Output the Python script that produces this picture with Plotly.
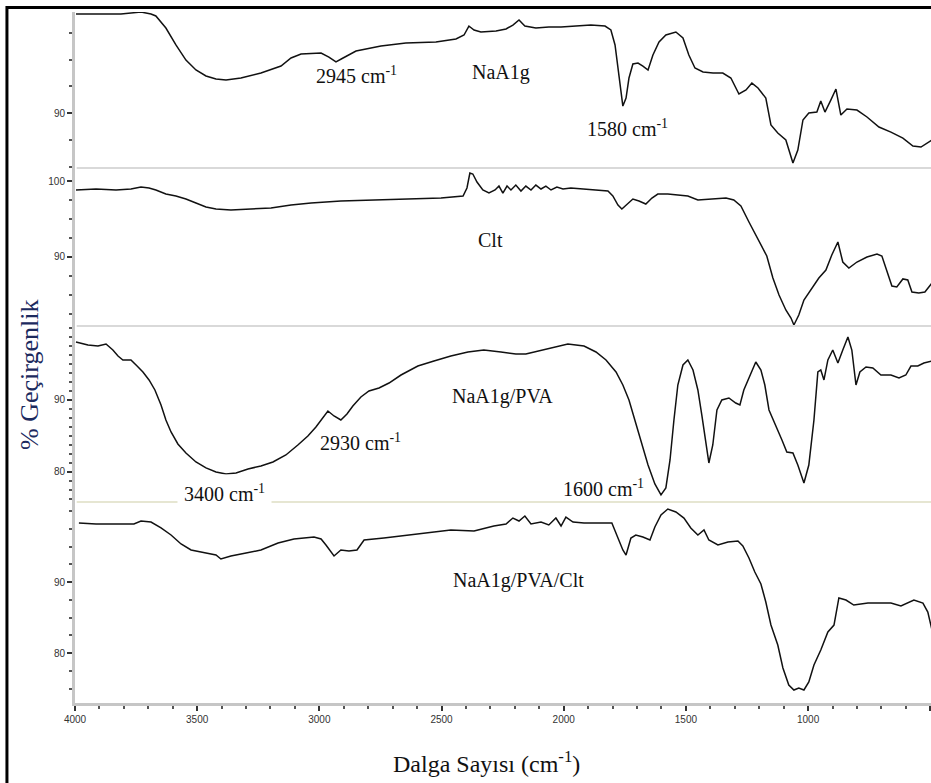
import plotly.graph_objects as go

# FTIR spectra, wavenumber (cm-1) and % transmittance, one pair of lists per sample
naalg_wn = [3996, 3894, 3812, 3730, 3689, 3669, 3628, 3587, 3546, 3505, 3464, 3423, 3382, 3321,
            3239, 3157, 3116, 3075, 2993, 2961, 2932, 2903, 2850, 2748, 2646, 2523, 2441, 2408,
            2388, 2367, 2339, 2277, 2236, 2208, 2183, 2159, 2114, 2061, 2011, 1950, 1889, 1831,
            1807, 1790, 1778, 1766, 1758, 1745, 1733, 1717, 1696, 1676, 1655, 1635, 1610, 1582,
            1541, 1512, 1488, 1463, 1430, 1389, 1349, 1316, 1283, 1254, 1230, 1205, 1173, 1152,
            1124, 1091, 1070, 1062, 1042, 1021, 997, 964, 948, 931, 907, 886, 866, 841, 800, 759,
            710, 661, 612, 571, 538, 514, 493]
naalg_t = [99.25, 99.25, 99.25, 99.44, 99.25, 99.07, 97.94, 96.36, 94.95, 94.02, 93.46, 93.18,
           93.08, 93.27, 93.74, 94.39, 95.14, 95.51, 95.61, 95.23, 94.77, 95.14, 95.79, 96.26,
           96.54, 96.64, 96.92, 97.29, 98.13, 97.76, 97.57, 97.66, 97.85, 98.22, 98.69, 98.13,
           97.94, 98.04, 98.04, 98.13, 98.22, 98.13, 97.76, 96.36, 94.02, 91.68, 90.65, 91.40,
           93.27, 94.58, 94.67, 94.39, 94.02, 95.42, 96.64, 97.29, 97.57, 97.01, 95.42, 94.21,
           93.83, 93.74, 93.74, 93.27, 91.78, 92.15, 92.80, 92.34, 91.40, 88.88, 88.13, 87.48,
           86.07, 85.33, 86.54, 89.35, 90.00, 90.09, 91.12, 90.09, 91.21, 92.24, 89.81, 90.37,
           90.28, 89.63, 88.69, 88.22, 87.66, 86.92, 86.82, 87.20, 87.48]

clt_wn = [3996, 3914, 3832, 3771, 3730, 3697, 3669, 3628, 3587, 3546, 3505, 3464, 3423, 3362,
          3280, 3198, 3116, 3034, 2912, 2789, 2666, 2502, 2412, 2396, 2384, 2372, 2355, 2331,
          2306, 2281, 2265, 2249, 2232, 2216, 2196, 2175, 2155, 2134, 2114, 2093, 2073, 2052,
          2028, 2003, 1971, 1930, 1868, 1819, 1799, 1778, 1762, 1741, 1717, 1692, 1664, 1639,
          1615, 1574, 1533, 1492, 1451, 1398, 1336, 1304, 1275, 1242, 1205, 1169, 1144, 1119,
          1091, 1070, 1058, 1038, 1017, 989, 956, 927, 903, 878, 858, 833, 800, 759, 718, 698,
          677, 657, 637, 612, 592, 575, 547, 522, 493]
clt_t = [98.82, 98.95, 98.82, 98.95, 99.21, 99.08, 98.82, 98.29, 98.03, 97.63, 97.11, 96.58,
         96.32, 96.18, 96.32, 96.45, 96.84, 97.11, 97.37, 97.50, 97.63, 97.76, 98.03, 99.08,
         101.05, 100.92, 99.87, 98.82, 98.42, 98.82, 99.34, 98.42, 99.34, 98.82, 99.47, 98.68,
         99.34, 98.82, 99.47, 98.95, 99.34, 98.82, 99.21, 98.95, 99.08, 98.95, 98.82, 98.68,
         98.03, 96.84, 96.32, 96.97, 97.63, 97.37, 96.97, 97.76, 98.29, 98.29, 98.16, 98.03,
         97.50, 97.63, 97.76, 97.50, 96.71, 94.61, 92.24, 90.13, 87.24, 85.00, 83.03, 81.97,
         81.05, 82.37, 84.34, 85.66, 87.24, 88.29, 90.26, 91.97, 89.34, 88.55, 89.34, 90.00,
         90.39, 90.13, 88.03, 86.18, 86.05, 87.11, 86.97, 85.39, 85.26, 85.39, 86.58]

pva_wn = [3996, 3947, 3906, 3873, 3845, 3824, 3804, 3771, 3746, 3722, 3697, 3673, 3648, 3628,
          3607, 3579, 3546, 3505, 3464, 3423, 3382, 3341, 3292, 3239, 3190, 3137, 3088, 3047,
          3014, 2985, 2965, 2940, 2912, 2887, 2863, 2830, 2797, 2756, 2715, 2666, 2597, 2531,
          2462, 2392, 2327, 2257, 2196, 2155, 2106, 2044, 1983, 1917, 1868, 1827, 1786, 1758,
          1733, 1709, 1684, 1655, 1627, 1602, 1582, 1565, 1549, 1533, 1512, 1492, 1471, 1451,
          1435, 1418, 1406, 1390, 1373, 1353, 1324, 1296, 1279, 1263, 1242, 1214, 1193, 1177,
          1160, 1132, 1107, 1087, 1062, 1042, 1017, 997, 976, 960, 948, 935, 919, 899, 878, 858,
          837, 821, 804, 788, 763, 735, 702, 661, 628, 600, 579, 551, 526, 493]
pva_t = [98.06, 97.64, 97.50, 97.78, 96.94, 96.11, 95.56, 95.56, 94.72, 93.89, 92.78, 91.39,
         89.31, 87.22, 85.56, 83.89, 82.64, 81.39, 80.56, 80.00, 79.72, 79.86, 80.42, 80.83,
         81.39, 82.36, 83.75, 85.00, 86.25, 87.50, 88.47, 87.78, 87.22, 88.06, 89.17, 90.42,
         91.25, 91.67, 92.36, 93.47, 94.72, 95.42, 96.11, 96.67, 96.94, 96.67, 96.39, 96.39,
         96.81, 97.36, 97.78, 97.50, 96.67, 95.56, 93.89, 92.08, 90.00, 87.22, 84.44, 80.97,
         78.33, 76.81, 77.78, 81.67, 87.22, 92.08, 94.86, 95.56, 94.17, 91.39, 87.92, 83.75,
         81.25, 83.75, 88.61, 90.00, 90.28, 89.58, 89.31, 91.39, 93.06, 95.28, 94.17, 92.08,
         88.61, 86.53, 84.44, 82.78, 82.64, 80.97, 78.47, 80.97, 87.22, 93.89, 94.17, 92.78,
         95.56, 96.94, 95.14, 96.94, 98.75, 96.94, 92.08, 93.89, 94.58, 94.44, 93.47, 93.47,
         93.06, 93.47, 94.72, 94.72, 95.14, 95.42]

clay_wn = [3984, 3914, 3832, 3759, 3730, 3689, 3648, 3607, 3566, 3525, 3464, 3423, 3403, 3362,
           3300, 3239, 3169, 3104, 3022, 2993, 2973, 2940, 2912, 2879, 2846, 2817, 2736, 2597,
           2462, 2367, 2286, 2236, 2208, 2183, 2159, 2134, 2093, 2061, 2032, 2011, 1991, 1962,
           1917, 1848, 1803, 1778, 1758, 1745, 1725, 1705, 1676, 1647, 1627, 1602, 1574, 1541,
           1508, 1480, 1451, 1426, 1406, 1369, 1328, 1287, 1267, 1242, 1218, 1193, 1173, 1152,
           1124, 1103, 1079, 1058, 1038, 1017, 997, 976, 948, 919, 894, 874, 845, 813, 755, 661,
           620, 567, 530, 510, 493]
clay_t = [98.31, 98.17, 98.17, 98.17, 98.59, 98.45, 97.61, 96.62, 95.35, 94.51, 94.08, 93.80,
          93.24, 93.66, 94.08, 94.51, 95.49, 96.06, 96.34, 96.06, 95.21, 93.66, 94.51, 94.37,
          94.51, 95.92, 96.20, 96.76, 97.32, 97.18, 97.89, 98.17, 99.01, 98.59, 99.30, 98.17,
          98.45, 98.03, 99.01, 97.89, 99.15, 98.45, 98.31, 98.31, 98.31, 96.20, 94.51, 93.80,
          96.20, 96.62, 96.34, 95.92, 97.75, 99.44, 100.28, 99.86, 99.01, 97.61, 96.62, 97.32,
          95.92, 95.21, 95.63, 95.77, 95.07, 93.38, 91.41, 89.72, 87.18, 83.94, 81.13, 77.89,
          75.49, 74.79, 75.07, 74.79, 75.92, 78.31, 80.42, 82.96, 83.94, 87.75, 87.46, 86.76,
          87.04, 87.04, 86.62, 87.46, 87.04, 85.77, 83.24]

x_ticks = [4000, 3500, 3000, 2500, 2000, 1500, 1000, 500]
x_tick_text = ["4000", "3500", "3000", "2500", "2000", "1500", "1000", "500"]

SERIF = "Liberation Serif, Times New Roman, serif"
SANS = "Liberation Sans, Arial, sans-serif"

fig = go.Figure()
series = [(naalg_wn, naalg_t, "y"), (clt_wn, clt_t, "y2"),
          (pva_wn, pva_t, "y3"), (clay_wn, clay_t, "y4")]
for wn, t, ax in series:
    fig.add_trace(go.Scatter(x=wn, y=t, xaxis="x", yaxis=ax, mode="lines",
                             line=dict(color="#111111", width=1.5),
                             showlegend=False, hoverinfo="skip"))

axis_line = "#c6c6c6"
tick_font = dict(family=SANS, size=10, color="#333333")


def yaxis(domain, rng, vals, minor_step):
    return dict(domain=domain, range=rng, anchor="x", showgrid=False, zeroline=False,
                showline=True, linecolor=axis_line, linewidth=3,
                tickmode="array", tickvals=vals, ticktext=[str(v) for v in vals],
                ticks="outside", ticklen=5, tickwidth=1.5, tickcolor="#333333",
                tickfont=tick_font,
                minor=dict(ticks="outside", ticklen=3, tickwidth=1.5, tickcolor="#555555",
                           tickmode="linear", tick0=0, dtick=minor_step, showgrid=False))


fig.update_layout(
    width=931, height=783,
    margin=dict(l=75, r=0, t=12, b=80),
    paper_bgcolor="white", plot_bgcolor="white",
    xaxis=dict(range=[4000, 497], anchor="y4", showgrid=False, zeroline=False,
               showline=True, linecolor=axis_line, linewidth=3,
               tickmode="array", tickvals=x_ticks, ticktext=x_tick_text,
               ticks="outside", ticklen=5, tickwidth=1.5, tickcolor="#333333",
               tickfont=dict(family=SANS, size=10, color="#333333"),
               minor=dict(ticks="outside", ticklen=3, tickwidth=1.5, tickcolor="#555555",
                          tickmode="linear", tick0=0, dtick=100, showgrid=False)),
    yaxis=yaxis([0.7742, 1.0], [84.86, 99.44], [90], 2.5),
    yaxis2=yaxis([0.5456, 0.7742], [80.92, 101.71], [90, 100], 2.5),
    yaxis3=yaxis([0.2909, 0.5456], [75.83, 100.28], [80, 90], 1.25),
    yaxis4=yaxis([0.0, 0.2909], [72.96, 101.27], [80, 90], 2.5),
)

# light separators between the stacked spectra
for yb, col in [(0.7742, "#d9d9d9"), (0.5456, "#d9d9d9"), (0.2909, "#e6e6d2")]:
    fig.add_shape(type="line", xref="paper", yref="paper", x0=0.002, x1=1.0, y0=yb, y1=yb,
                  line=dict(color=col, width=2))

# outer frame
fig.add_shape(type="rect", xref="paper", yref="paper", x0=-0.0795, x1=1.01, y0=-0.12,
              y1=1.0065, line=dict(color="black", width=3), fillcolor="rgba(0,0,0,0)")

labels = [
    ("2945 cm<sup>-1</sup>", 2846, 93.55, "y", False),
    ("NaA1g", 2257, 93.83, "y", False),
    ("1580 cm<sup>-1</sup>", 1737, 88.60, "y", False),
    ("Clt", 2298, 92.24, "y2", False),
    ("NaA1g/PVA", 2249, 90.42, "y3", False),
    ("2930 cm<sup>-1</sup>", 2830, 84.17, "y3", False),
    ("3400 cm<sup>-1</sup>", 3390, 77.08, "y3", True),
    ("1600 cm<sup>-1</sup>", 1836, 77.78, "y3", False),
    ("NaA1g/PVA/Clt", 2187, 90.28, "y4", False),
]
for text, xv, yv, ax, boxed in labels:
    fig.add_annotation(text=text, x=xv, y=yv, xref="x", yref=ax, showarrow=False,
                       xanchor="center", yanchor="middle",
                       font=dict(family=SERIF, size=20, color="#111111"),
                       bgcolor="white" if boxed else None, borderpad=6 if boxed else 1)

fig.add_annotation(text="Dalga Sayısı (cm<sup>-1</sup>)", x=0.481, y=-0.0854,
                   xref="paper", yref="paper", showarrow=False,
                   xanchor="center", yanchor="middle",
                   font=dict(family=SERIF, size=24, color="#111111"))
fig.add_annotation(text="% Geçirgenlik", x=-0.0526, y=0.4747, xref="paper", yref="paper",
                   showarrow=False, textangle=-90, xanchor="center", yanchor="middle",
                   font=dict(family=SERIF, size=26, color="#1c2a5e"))

fig.write_html("out.html")
